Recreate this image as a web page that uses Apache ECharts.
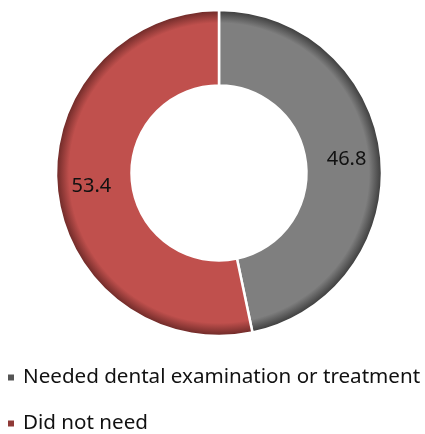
<!DOCTYPE html>
<html>
<head>
<meta charset="utf-8">
<script src="https://cdn.jsdelivr.net/npm/echarts@6/dist/echarts.min.js"></script>
<style>
  html, body { margin: 0; padding: 0; background: #fff; }
  #chart { width: 425px; height: 434px; }
</style>
</head>
<body>
<div id="chart"></div>
<script>
// Share of respondents by dental care need (%)
const categories = ['Needed dental examination or treatment', 'Did not need'];
const shares = [46.8, 53.4];
const baseColors = ['#7f7f7f', '#c0504d'];
const edgeColors = ['#3a3a3a', '#6a2826'];
const legendColors = ['#555555', '#8f3a37'];

const cx = 219, cy = 173, outerR = 163, innerR = 87.5;

function ringFill(i) {
  // darkened rim toward the outer edge of the ring
  return new echarts.graphic.RadialGradient(cx, cy, outerR, [
    { offset: 0, color: baseColors[i] },
    { offset: 0.92, color: baseColors[i] },
    { offset: 1, color: edgeColors[i] }
  ], true);
}

const chart = echarts.init(document.getElementById('chart'), null, { renderer: 'canvas' });
chart.setOption({
  animation: false,
  legend: {
    orient: 'vertical',
    left: 6,
    top: 367,
    padding: 0,
    itemWidth: 8,
    itemHeight: 8,
    itemGap: 25,
    icon: 'rect',
    data: categories.map((name, i) => ({ name, itemStyle: { color: legendColors[i] } })),
    textStyle: { fontFamily: 'Noto Sans', fontSize: 20.6, color: '#111', padding: [0, 0, 0, 3] }
  },
  series: [{
    type: 'pie',
    center: [cx, cy],
    radius: [innerR, outerR],
    startAngle: 90,
    clockwise: true,
    label: {
      show: true,
      position: 'inside',
      formatter: p => p.value.toFixed(1),
      fontFamily: 'Noto Sans',
      fontSize: 20,
      color: '#111'
    },
    labelLine: { show: false },
    itemStyle: { borderColor: '#ffffff', borderWidth: 2.5 },
    emphasis: { disabled: true },
    data: categories.map((name, i) => ({
      name,
      value: shares[i],
      itemStyle: { color: ringFill(i) }
    }))
  }]
});
</script>
</body>
</html>
